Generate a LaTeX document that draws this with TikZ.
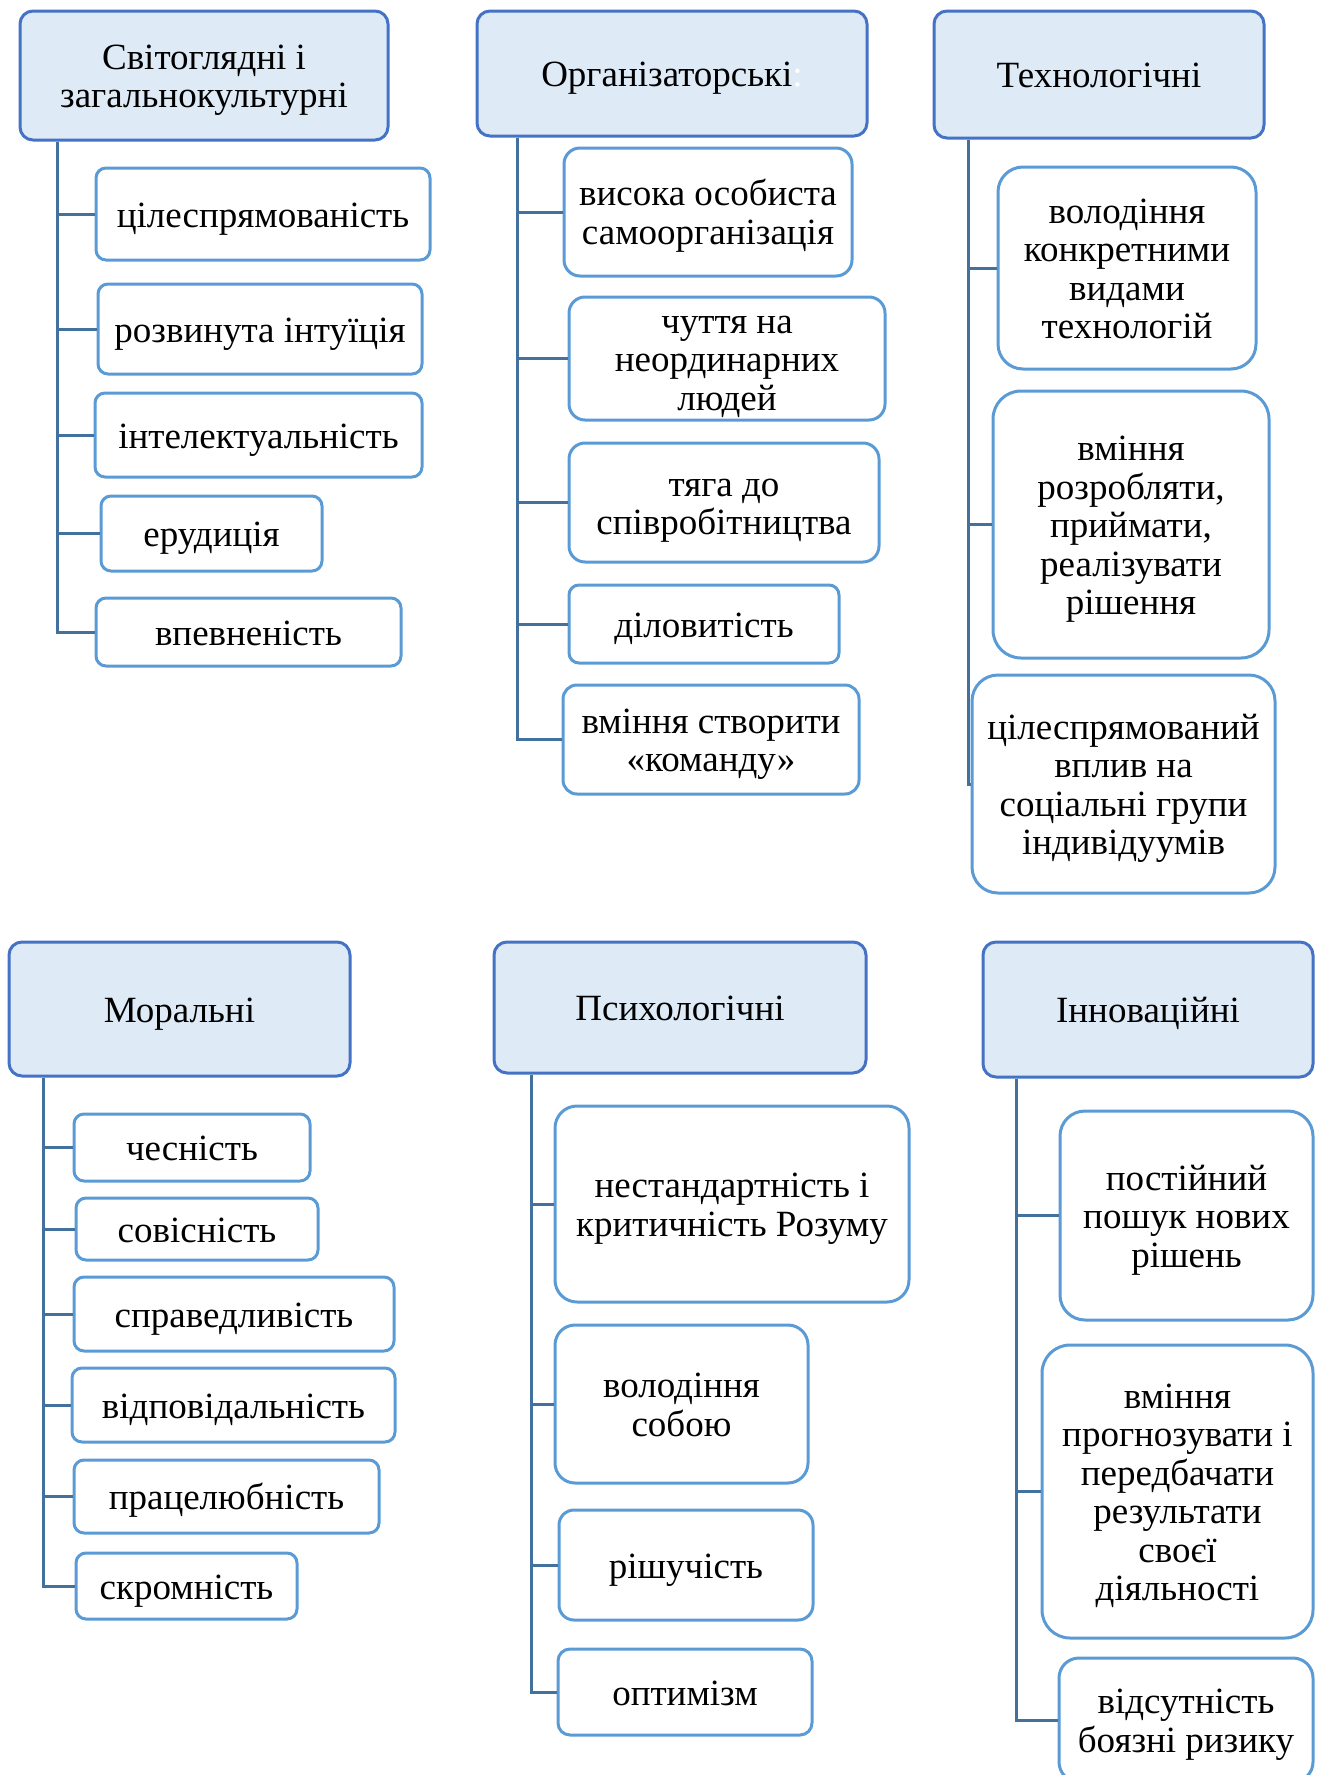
\documentclass[tikz,border=0pt]{standalone}
\usepackage{fontspec}
\setmainfont{Liberation Serif}
\usepackage{tikz}

\definecolor{hdrfill}{HTML}{DEEAF6}
\definecolor{hdrline}{HTML}{4472C4}
\definecolor{itemline}{HTML}{5B9BD5}
\definecolor{linkline}{HTML}{41719C}

% struts: fixed top of first line, fixed bottom of last line
\newcommand{\tst}{\rule{0pt}{35pt}}
\newcommand{\bst}{\rule[-9pt]{0pt}{0pt}}

\tikzset{
  hdr/.style={draw=hdrline, fill=hdrfill, line width=3pt, rounded corners=13pt,
    align=center, inner sep=0pt, font=\fontsize{37}{38.5}\selectfont},
  item/.style={draw=itemline, fill=white, line width=3pt, rounded corners=10pt,
    align=center, inner sep=0pt, font=\fontsize{37}{38.5}\selectfont},
  link/.style={draw=linkline, line width=3pt}
}

\begin{document}
\begin{tikzpicture}[x=1pt,y=-1pt]
\useasboundingbox (0,0) rectangle (1320,1775);

% top row: headers
\node[hdr, minimum width=368pt, minimum height=129pt] (h1) at (204,75.5) {\tst Світоглядні і\\загальнокультурні\bst};
\node[hdr, minimum width=390pt, minimum height=125pt] (h2) at (672,73.5) {\tst Організаторські\textcolor{white}{:}\bst};
\node[hdr, minimum width=330pt, minimum height=127pt] (h3) at (1099,74.5) {\tst Технологічні\bst};

% bottom row: headers
\node[hdr, minimum width=341pt, minimum height=134pt] (h4) at (179.5,1009) {\tst Моральні\bst};
\node[hdr, minimum width=372pt, minimum height=131pt] (h5) at (680,1007.5) {\tst Психологічні\bst};
\node[hdr, minimum width=330pt, minimum height=135pt] (h6) at (1148,1009.5) {\tst Інноваційні\bst};

% trunks
\coordinate (t1) at (57,0);
\coordinate (t2) at (517,0);
\coordinate (t3) at (968,0);
\coordinate (t4) at (43,0);
\coordinate (t5) at (531,0);
\coordinate (t6) at (1016,0);

% column 1
\node[item, minimum width=334pt, minimum height=92pt] (c1) at (263,214) {\tst цілеспрямованість\bst};
\node[item, minimum width=324pt, minimum height=90pt] (c2) at (260,329) {\tst розвинута інтуїція\bst};
\node[item, minimum width=327pt, minimum height=84pt] (c3) at (258.5,435) {\tst інтелектуальність\bst};
\node[item, minimum width=221pt, minimum height=75pt] (c4) at (211.5,533.5) {\tst ерудиція\bst};
\node[item, minimum width=305pt, minimum height=68pt] (c5) at (248.5,632) {\tst впевненість\bst};

% column 2
\node[item, minimum width=288pt, minimum height=128pt, rounded corners=16pt] (d1) at (708,212) {\tst висока особиста\\самоорганізація\bst};
\node[item, minimum width=316pt, minimum height=123pt, rounded corners=16pt] (d2) at (727,358.5) {\tst чуття на\\неординарних\\людей\bst};
\node[item, minimum width=310pt, minimum height=119pt, rounded corners=16pt] (d3) at (724,502.5) {\tst тяга до\\співробітництва\bst};
\node[item, minimum width=270pt, minimum height=78pt] (d4) at (704,624) {\tst діловитість\bst};
\node[item, minimum width=296pt, minimum height=109pt, rounded corners=14pt] (d5) at (711,739.5) {\tst вміння створити\\«команду»\bst};

% column 3
\node[item, minimum width=258pt, minimum height=202pt, rounded corners=25pt] (e1) at (1127,268) {\tst володіння\\конкретними\\видами\\технологій\bst};
\node[item, minimum width=276pt, minimum height=267pt, rounded corners=28pt] (e2) at (1131,524.5) {\tst вміння\\розробляти,\\приймати,\\реалізувати\\рішення\bst};
\node[item, minimum width=303pt, minimum height=218pt, rounded corners=26pt] (e3) at (1123.5,784) {\tst цілеспрямований\\вплив на\\соціальні групи\\індивідуумів\bst};

% column 4
\node[item, minimum width=236pt, minimum height=67pt] (f1) at (192,1147.5) {\tst чесність\bst};
\node[item, minimum width=242pt, minimum height=62pt] (f2) at (197,1229) {\tst совісність\bst};
\node[item, minimum width=320pt, minimum height=74pt] (f3) at (234,1314) {\tst справедливість\bst};
\node[item, minimum width=323pt, minimum height=74pt] (f4) at (233.5,1405) {\tst відповідальність\bst};
\node[item, minimum width=305pt, minimum height=73pt] (f5) at (226.5,1496.5) {\tst працелюбність\bst};
\node[item, minimum width=221pt, minimum height=66pt] (f6) at (186.5,1586) {\tst скромність\bst};

% column 5
\node[item, minimum width=354pt, minimum height=196pt, rounded corners=22pt] (g1) at (732,1204) {\tst нестандартність і\\критичність Розуму\bst};
\node[item, minimum width=253pt, minimum height=158pt, rounded corners=20pt] (g2) at (681.5,1404) {\tst володіння\\собою\bst};
\node[item, minimum width=254pt, minimum height=110pt, rounded corners=15pt] (g3) at (686,1565) {\tst рішучість\bst};
\node[item, minimum width=254pt, minimum height=86pt, rounded corners=12pt] (g4) at (685,1692) {\tst оптимізм\bst};

% column 6
\node[item, minimum width=253pt, minimum height=209pt, rounded corners=25pt] (k1) at (1186.5,1215.5) {\tst постійний\\пошук нових\\рішень\bst};
\node[item, minimum width=271pt, minimum height=293pt, rounded corners=28pt] (k2) at (1177.5,1491.5) {\tst вміння\\прогнозувати і\\передбачати\\результати\\своєї\\діяльності\bst};
\node[item, minimum width=254pt, minimum height=124pt, rounded corners=20pt] (k3) at (1186,1720) {\tst відсутність\\боязні ризику\bst};

% connectors
\foreach \c in {c1,c2,c3,c4,c5}
  \draw[link] (t1 |- h1.south) |- (\c.west);
\foreach \c in {d1,d2,d3,d4,d5}
  \draw[link] (t2 |- h2.south) |- (\c.west);
\foreach \c in {e1,e2,e3}
  \draw[link] (t3 |- h3.south) |- (\c.west);
\foreach \c in {f1,f2,f3,f4,f5,f6}
  \draw[link] (t4 |- h4.south) |- (\c.west);
\foreach \c in {g1,g2,g3,g4}
  \draw[link] (t5 |- h5.south) |- (\c.west);
\foreach \c in {k1,k2,k3}
  \draw[link] (t6 |- h6.south) |- (\c.west);
\end{tikzpicture}
\end{document}
